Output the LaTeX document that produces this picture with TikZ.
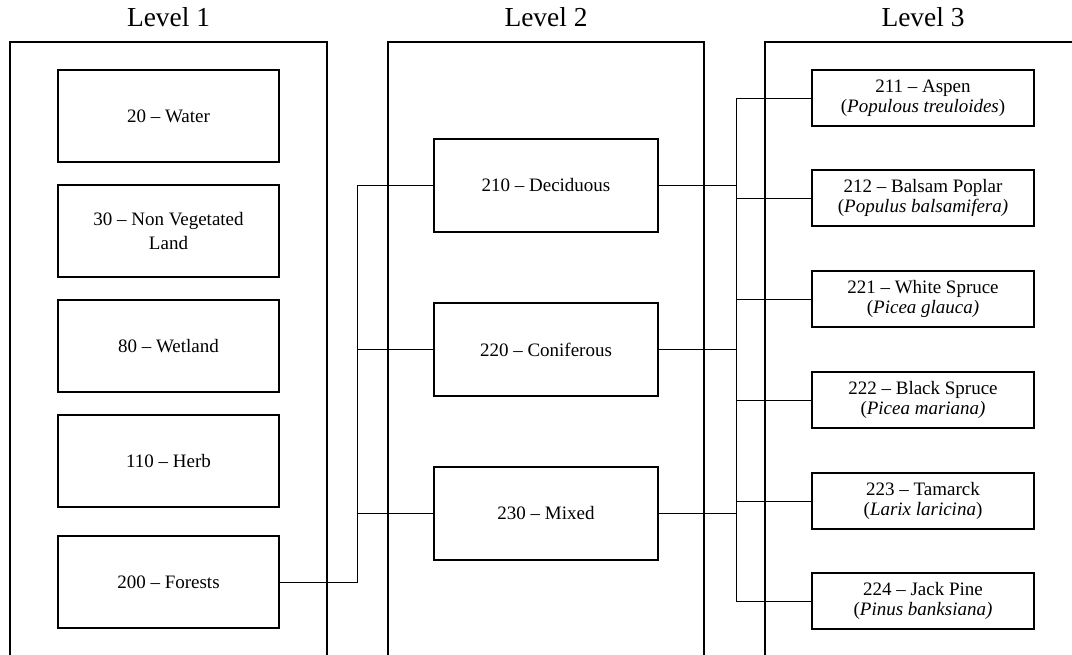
\documentclass[tikz,border=0pt]{standalone}
\usepackage{fontspec}
\setmainfont{Liberation Serif}

\begin{document}
\begin{tikzpicture}[
    x=0.025cm, y=-0.025cm,
    panel/.style={draw, line width=0.9pt},
    heading/.style={anchor=base, font=\fontsize{19.5}{23}\selectfont},
    classbox/.style={
        rectangle,
        draw,
        line width=0.8pt,
        align=center,
        inner sep=0pt,
        minimum width=#1,
        font=\fontsize{13.5}{17}\selectfont
    },
    lvlone/.style={classbox=5.525cm, minimum height=2.3cm},
    lvltwo/.style={classbox=5.6cm, minimum height=2.325cm},
    lvlthree/.style={classbox=5.55cm, minimum height=1.4cm, font=\fontsize{13.5}{14.5}\selectfont},
    link/.style={line width=0.7pt}
]

\useasboundingbox (0,0) rectangle (1072,655);
\clip (0,0) rectangle (1072,655);

\draw[panel] (10,42) rectangle (327,700);
\draw[panel] (388,42) rectangle (704,700);
\draw[panel] (765,42) rectangle (1082,700);

\node[heading] (hdone) at (168.5,27) {Level 1};
\node[heading] (hdtwo) at (546,27) {Level 2};
\node[heading] (hdthree) at (923,27) {Level 3};

\node[lvlone] (water) at (168.5,116) {20 -- Water};
\node[lvlone] (nonveg) at (168.5,231) {30 -- Non Vegetated\\Land};
\node[lvlone] (wetland) at (168.5,346) {80 -- Wetland};
\node[lvlone] (herb) at (168.5,461) {110 -- Herb};
\node[lvlone] (forests) at (168.5,582) {200 -- Forests};

\node[lvltwo] (decid) at (546,185.5) {210 -- Deciduous};
\node[lvltwo] (conif) at (546,349.5) {220 -- Coniferous};
\node[lvltwo] (mixed) at (546,513.5) {230 -- Mixed};

\node[lvlthree] (aspen) at (923,98) {211 -- Aspen\\(\textit{Populous treuloides})};
\node[lvlthree] (balsam) at (923,198) {212 -- Balsam Poplar\\(\textit{Populus balsamifera)}};
\node[lvlthree] (wspruce) at (923,299) {221 -- White Spruce\\(\textit{Picea glauca)}};
\node[lvlthree] (bspruce) at (923,400) {222 -- Black Spruce\\(\textit{Picea mariana)}};
\node[lvlthree] (tamarck) at (923,501) {223 -- Tamarck\\(\textit{Larix laricina})};
\node[lvlthree] (jpine) at (923,601) {224 -- Jack Pine\\(\textit{Pinus banksiana)}};

\coordinate (busone) at (357,0);
\coordinate (bustwo) at (736,0);

\foreach \dst in {decid,conif,mixed}
    \draw[link] (forests.east) -- (forests.east -| busone) |- (\dst.west);

\foreach \src/\dst in {decid/aspen, decid/balsam, decid/wspruce, conif/wspruce, conif/bspruce, conif/tamarck, mixed/tamarck, mixed/jpine}
    \draw[link] (\src.east) -- (\src.east -| bustwo) |- (\dst.west);

\end{tikzpicture}
\end{document}
